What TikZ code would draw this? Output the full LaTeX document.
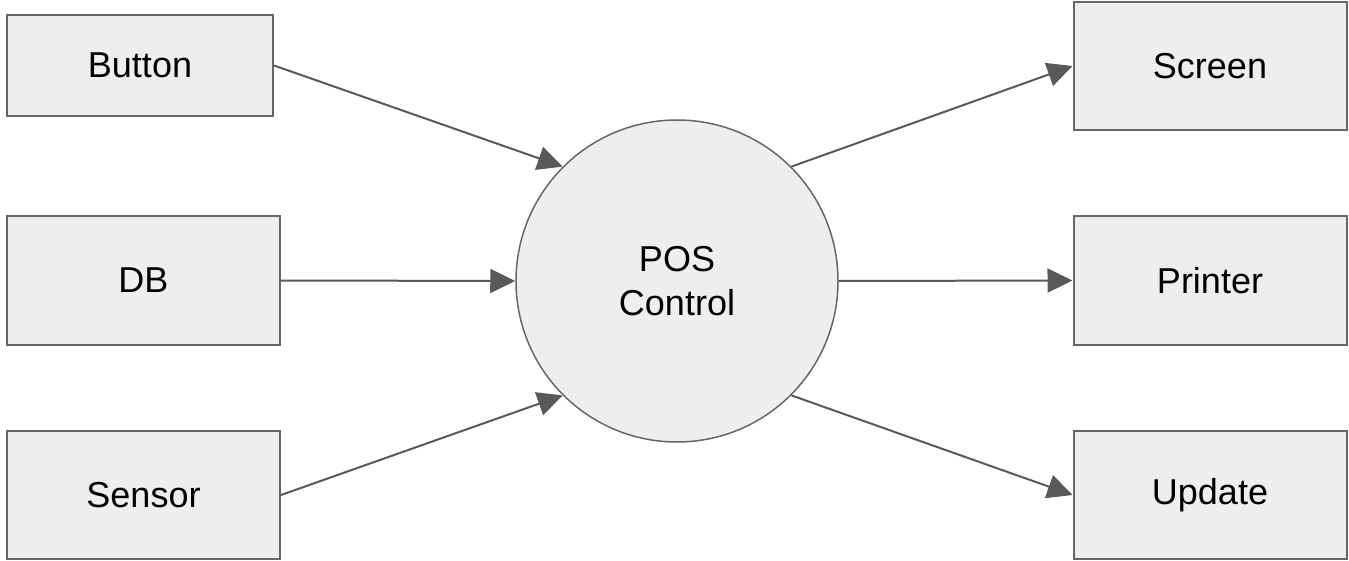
\documentclass[tikz,border=0pt]{standalone}
\usepackage{fontspec}
\setmainfont{Liberation Sans}
\usetikzlibrary{arrows.meta}

\definecolor{boxfill}{HTML}{EEEEEE}
\definecolor{boxline}{HTML}{666666}
\definecolor{wire}{HTML}{595959}

\begin{document}
\begin{tikzpicture}[x=1pt, y=-1pt]

        % Define node styles
        \tikzstyle{unit} = [rectangle, draw=boxline, line width=2pt, fill=boxfill, minimum width=273pt, minimum height=128pt, inner sep=0pt, font=\fontsize{36}{43}\selectfont]
        \tikzstyle{hub} = [circle, draw=boxline, line width=1.5pt, fill=boxfill, minimum size=322pt, inner sep=0pt, align=center, font=\fontsize{36}{44}\selectfont]
        \tikzstyle{flow} = [draw=wire, line width=2pt, -{Triangle[length=25pt, width=24pt]}]

        \useasboundingbox (0,0) rectangle (1349,561);

        % Inputs
        \node[unit, minimum width=266pt, minimum height=101pt] (button) at (140,65.5) {Button};
        \node[unit] (db) at (143.5,280.5) {DB};
        \node[unit] (sensor) at (143.5,495) {Sensor};

        % Controller
        \node[hub] (pos) at (677,281) {POS\\Control};

        % Outputs
        \node[unit] (screen) at (1210,66) {Screen};
        \node[unit] (printer) at (1210,280.5) {Printer};
        \node[unit] (update) at (1210,495) {Update};

        % Draw arrows into the controller
        \foreach \src/\ang in {button/135, db/180, sensor/225}
            \draw[flow] (\src.east) -- (pos.\ang);

        % Draw arrows out of the controller
        \foreach \dst/\ang in {screen/45, printer/0, update/315}
            \draw[flow] (pos.\ang) -- (\dst.west);

    \end{tikzpicture}
\end{document}
